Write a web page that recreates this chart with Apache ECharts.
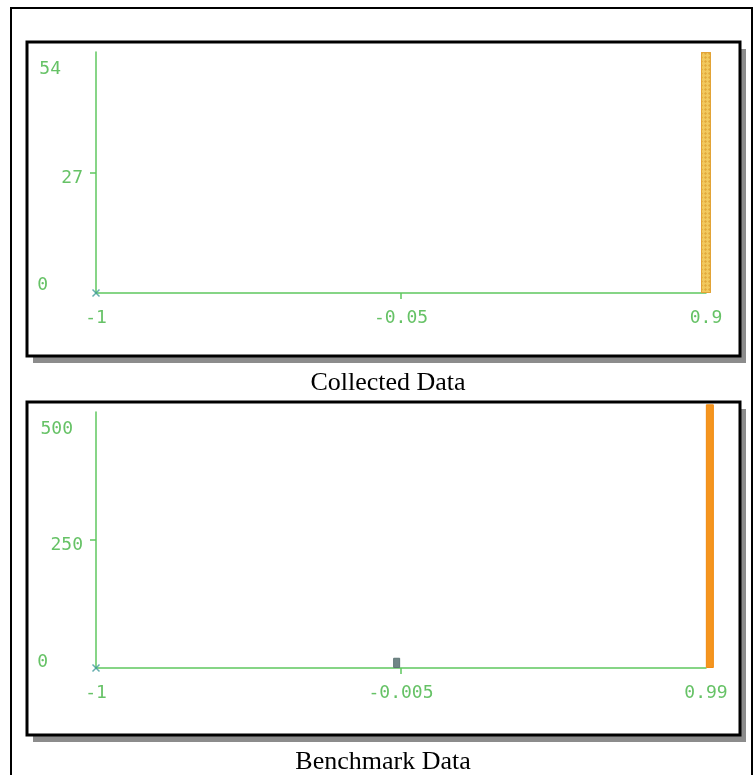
<!DOCTYPE html>
<html>
<head>
<meta charset="utf-8">
<script src="https://cdn.jsdelivr.net/npm/echarts@6/dist/echarts.min.js"></script>
<style>
html,body{margin:0;padding:0;background:#fff;}
#chart{width:755px;height:775px;}
</style>
</head>
<body>
<div id="chart"></div>
<script>
// ---- data ----
const collectedX = [-1, 0.9];
const collectedCounts = [0, 54];
const collectedXTicks = [-1, -0.05, 0.9];
const collectedYTicks = [0, 27, 54];

const benchmarkX = [-1, -0.005, 0.99];
const benchmarkCounts = [0, 20, 515];
const benchmarkXTicks = [-1, -0.005, 0.99];
const benchmarkYTicks = [0, 250, 500];

const panelTitles = ['Collected Data', 'Benchmark Data'];

// ---- styles ----
const GREEN = '#5fc75f';
const TEXT_GREEN = '#66c266';
const MONO = 'DejaVu Sans Mono';
const zeroMarkColor = '#3f9a9a';
const barStyles = [
  { '0.9': { color: '#f2c95e', border: '#e2a336', width: 10 } },
  { '-0.005': { color: '#718787', border: '#5f7676', width: 7 },
    '0.99': { color: '#f5951e', border: '#f08a10', width: 8 } }
];
const xShape = 'path://M0,0L10,10M10,0L0,10';

function yLabelRich(ticks, padMax, padMid, padMin) {
  return {
    formatter: function (v) {
      if (v === ticks[2]) return '{mx|' + v + '}';
      if (v === ticks[1]) return '{md|' + v + '}';
      return '{mn|' + v + '}';
    },
    rich: {
      mx: { padding: padMax, fontFamily: MONO, fontSize: 18, color: TEXT_GREEN },
      md: { padding: padMid, fontFamily: MONO, fontSize: 18, color: TEXT_GREEN },
      mn: { padding: padMin, fontFamily: MONO, fontSize: 18, color: TEXT_GREEN }
    }
  };
}

function buildPanel(idx, xs, counts, xTicks, yTicks, yLab) {
  const xAxis = {
    type: 'value', gridIndex: idx,
    min: xTicks[0], max: xTicks[xTicks.length - 1],
    splitLine: { show: false },
    axisLine: { show: true, onZero: false, lineStyle: { color: GREEN, width: 1.5 } },
    axisTick: { show: true, customValues: [xTicks[1]], length: 6, lineStyle: { color: GREEN, width: 1.5 } },
    axisLabel: {
      customValues: xTicks, margin: 16,
      fontFamily: MONO, fontSize: 18, color: TEXT_GREEN,
      formatter: function (v) { return String(v); }
    }
  };
  const yAxis = {
    type: 'value', gridIndex: idx,
    min: yTicks[0], max: yTicks[2],
    splitLine: { show: false },
    axisLine: { show: true, onZero: false, lineStyle: { color: GREEN, width: 1.5 } },
    axisTick: { show: true, customValues: [yTicks[1]], length: 6, lineStyle: { color: GREEN, width: 1.5 } },
    axisLabel: Object.assign({ customValues: yTicks, margin: 13 }, yLab)
  };
  const series = [];
  xs.forEach(function (x, i) {
    const c = counts[i];
    if (c === 0) {
      series.push({
        type: 'scatter', xAxisIndex: idx, yAxisIndex: idx,
        data: [[x, c]], symbol: xShape, symbolSize: 7,
        itemStyle: { color: 'transparent', borderColor: zeroMarkColor, borderWidth: 1.5 },
        z: 5, clip: false, silent: true
      });
    } else {
      const st = barStyles[idx][String(x)];
      series.push({
        type: 'bar', xAxisIndex: idx, yAxisIndex: idx,
        data: [[x, c]], barWidth: st.width, clip: false,
        itemStyle: {
          color: st.color, borderColor: st.border, borderWidth: 1,
          decal: idx === 0 ? { symbol: 'diamond', color: 'rgba(214,140,30,0.55)', dashArrayX: [3, 1], dashArrayY: [3, 1], symbolSize: 1 } : undefined
        },
        z: 4, silent: true
      });
    }
  });
  return { xAxis: xAxis, yAxis: yAxis, series: series };
}

const p1 = buildPanel(0, collectedX, collectedCounts, collectedXTicks, collectedYTicks,
  yLabelRich(collectedYTicks, [34, 22, 0, 0], [12, 0, 0, 0], [0, 35, 16, 0]));
const p2 = buildPanel(1, benchmarkX, benchmarkCounts, benchmarkXTicks, benchmarkYTicks,
  yLabelRich(benchmarkYTicks, [34, 10, 0, 0], [10, 0, 0, 0], [0, 35, 12, 0]));

function panelBox(x, y, w, h) {
  return [
    { type: 'rect', shape: { x: x + 6, y: y + 7, width: w, height: h }, style: { fill: '#8c8c8c' }, z: -10, silent: true },
    { type: 'rect', shape: { x: x, y: y, width: w, height: h }, style: { fill: '#ffffff', stroke: '#000000', lineWidth: 3 }, z: -9, silent: true }
  ];
}

const option = {
  animation: false,
  backgroundColor: '#ffffff',
  grid: [
    { left: 96, right: 49, top: 52, height: 241, containLabel: false },
    { left: 96, right: 49, top: 412, height: 256, containLabel: false }
  ],
  xAxis: [p1.xAxis, p2.xAxis],
  yAxis: [p1.yAxis, p2.yAxis],
  series: p1.series.concat(p2.series),
  graphic: [
    { type: 'rect', shape: { x: 11, y: 8, width: 741, height: 800 }, style: { fill: 'none', stroke: '#000', lineWidth: 2 }, z: -20, silent: true }
  ].concat(panelBox(27, 42, 713, 314)).concat(panelBox(27, 402, 713, 333)).concat([
    { type: 'text', x: 388, y: 383, style: { text: panelTitles[0], font: '26px "Liberation Serif"', fill: '#000', align: 'center', verticalAlign: 'middle' }, z: 1 },
    { type: 'text', x: 383, y: 762, style: { text: panelTitles[1], font: '26px "Liberation Serif"', fill: '#000', align: 'center', verticalAlign: 'middle' }, z: 1 }
  ])
};

const chart = echarts.init(document.getElementById('chart'), null, { renderer: 'canvas' });
chart.setOption(option);
</script>
</body>
</html>
